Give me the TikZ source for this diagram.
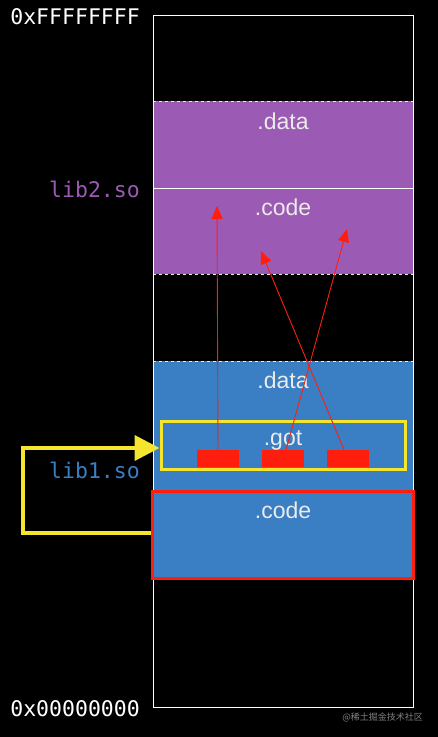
\documentclass[tikz,border=0pt]{standalone}
\usepackage{fontspec}
\setmainfont{Liberation Sans}
\setmonofont{DejaVu Sans Mono}
\newfontfamily\cjkfont{Noto Sans CJK SC}
\usepackage{xcolor}
\usetikzlibrary{arrows.meta, positioning}
\definecolor{lpurple}{HTML}{9B5BB4}
\definecolor{lblue}{HTML}{3A7EC4}
\definecolor{lyellow}{HTML}{F5E52E}
\definecolor{lred}{HTML}{FF1E0E}

\tikzset{
  seclabel/.style={font=\fontsize{23}{26}\selectfont, text=white!92!black, inner sep=0pt},
  addrlabel/.style={font=\ttfamily\fontsize{21.5}{24}\selectfont, anchor=east, inner sep=0pt},
  slotbox/.style={fill=lred, minimum width=42pt, minimum height=17pt, inner sep=0pt},
  gotlink/.style={draw=lred, line width=0.9pt, -{Triangle[length=13pt,width=11pt]}}
}

\begin{document}
\begin{tikzpicture}[x=1pt, y=-1pt]
\fill[black] (0,0) rectangle (438,737);
\useasboundingbox (0,0) rectangle (438,737);

% lib2.so
\fill[lpurple] (153,101) rectangle (413,274);
\draw[white, line width=0.8pt] (153,188) -- (413,188);
\draw[white!85!lpurple, dashed, line width=0.7pt] (153,101) -- (413,101);
\draw[white!85!lpurple, dashed, line width=0.7pt] (153,274) -- (413,274);
\node[seclabel] (data2) at (283,121) {.data};
\node[seclabel] (code2) at (283,207) {.code};

% lib1.so
\fill[lblue] (153,361) rectangle (413,578);
\draw[white!85!lblue, dashed, line width=0.7pt] (153,361) -- (413,361);
\node[seclabel] (data1) at (283,380) {.data};
\node[seclabel] (got) at (283,440) {.got};
\node[seclabel] (code1) at (283,510) {.code};

% address space
\node[draw=white, line width=0.9pt, minimum width=260pt, minimum height=692pt, inner sep=0pt]
  (mem) at (283,361) {};

% got and code frames
\node[draw=lyellow, line width=3pt, minimum width=244pt, minimum height=48pt, inner sep=0pt]
  (gotbox) at (283,445) {};
\node[draw=lred, line width=3pt, minimum width=261pt, minimum height=87pt, inner sep=0pt]
  (codebox) at (282.5,534.5) {};

% got slots
\node[slotbox] (slota) at (218,458.5) {};
\node[slotbox] (slotb) at (283,458.5) {};
\node[slotbox] (slotc) at (348,458.5) {};

\coordinate (targeta) at (217,206);
\coordinate (targetb) at (347,229);
\coordinate (targetc) at (261,251);
\draw[gotlink] (slota.north) -- (targeta);
\draw[gotlink] ([xshift=3pt]slotb.north) -- (targetb);
\draw[gotlink] ([xshift=-4pt]slotc.north) -- (targetc);

% yellow jump
\draw[lyellow, line width=4pt, -{Triangle[length=25pt,width=25pt]}]
  (codebox.west |- 0,533) -- (23,533) -- (23,448) -- (gotbox.west |- 0,448);

% labels
\node[addrlabel, text=white] (top) at (140,17) {0xFFFFFFFF};
\node[addrlabel, text=white] (bottom) at (140,709) {0x00000000};
\node[addrlabel, text=lpurple] (lib2) at (140,189) {lib2.so};
\node[addrlabel, text=lblue] (lib1) at (140,470) {lib1.so};
\node[font=\cjkfont\fontsize{9}{10}\selectfont, text=gray, anchor=east, inner sep=0pt]
  (mark) at (423,717) {@稀土掘金技术社区};
\end{tikzpicture}
\end{document}
